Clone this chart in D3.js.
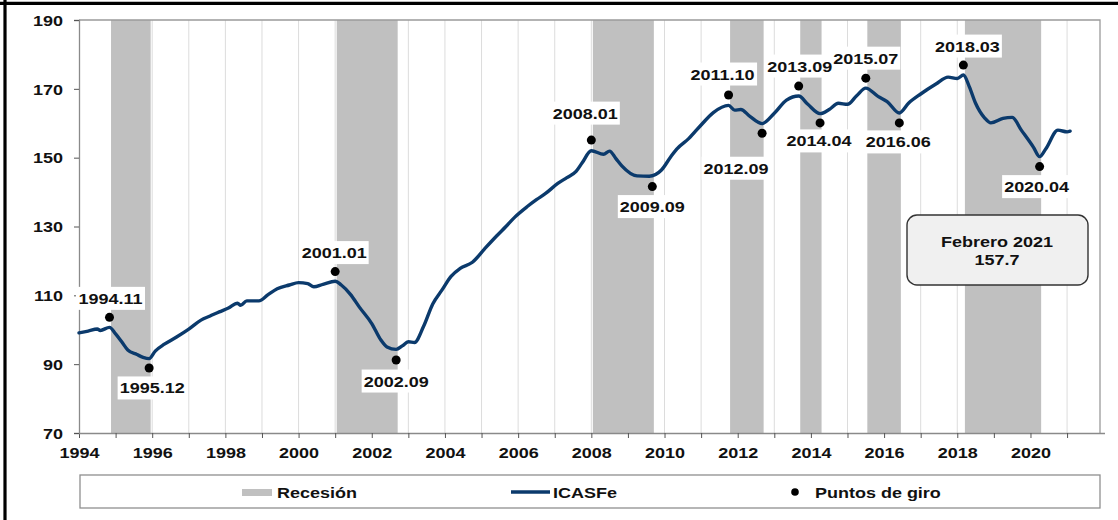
<!DOCTYPE html>
<html>
<head>
<meta charset="utf-8">
<script src="https://cdn.jsdelivr.net/npm/d3@7"></script>
<style>
  html, body { margin: 0; padding: 0; background: #fff; }
  svg { display: block; }
  text { font-family: "Liberation Sans", Arial, sans-serif; font-weight: bold; fill: #111; }
</style>
</head>
<body>
<svg id="chart" width="1118" height="520"></svg>
<script>
// ---------------- DATA ----------------
const icasfeDates = [
  "1994-01","1994-04","1994-07","1994-08","1994-11","1995-01","1995-03","1995-05","1995-08","1995-10","1995-12",
  "1996-02","1996-05","1996-09","1997-01","1997-05","1997-08","1997-11","1998-02","1998-05","1998-06","1998-08","1998-12",
  "1999-03","1999-06","1999-10","2000-01","2000-04","2000-06","2000-09","2001-01","2001-03","2001-06","2001-09",
  "2002-01","2002-04","2002-06","2002-09","2002-11","2003-01","2003-03","2003-06","2003-09","2003-12",
  "2004-03","2004-06","2004-10","2005-02","2005-06","2005-09","2005-12","2006-04","2006-07","2006-10",
  "2007-02","2007-05","2007-08","2007-10","2008-01","2008-05","2008-07","2008-09","2008-11","2009-04","2009-08","2009-12",
  "2010-03","2010-05","2010-09","2011-01","2011-05","2011-10","2011-12","2012-02","2012-05","2012-09",
  "2013-01","2013-05","2013-09","2013-12","2014-04","2014-07","2014-10","2015-01","2015-04","2015-07","2015-11",
  "2016-02","2016-06","2016-09","2017-01","2017-06","2017-10","2018-01","2018-03","2018-05","2018-07","2018-10","2018-12",
  "2019-04","2019-07","2019-10","2020-02","2020-04","2020-06","2020-10","2021-01","2021-02"
];
const icasfeValues = [
  99.1,99.6,100.2,99.8,100.7,98.8,96.5,94.1,92.8,92.0,91.6,
  93.8,95.8,97.9,100.2,102.8,104.0,105.2,106.3,107.7,107.1,108.4,108.4,
  110.2,111.9,113.0,113.7,113.4,112.5,113.2,114.1,113.0,110.3,106.5,
  101.8,97.0,95.0,94.3,95.3,96.5,96.3,101.0,107.5,111.5,
  115.5,117.8,119.6,123.5,127.3,130.0,132.8,135.8,137.8,139.6,
  142.5,144.2,146.0,148.5,152.0,151.0,151.9,149.8,147.6,144.7,144.6,146.4,
  150.2,152.5,155.6,159.5,163.1,165.2,163.8,164.0,162.0,159.9,
  162.9,166.7,167.9,165.5,162.8,164.0,165.8,165.5,168.0,170.2,167.8,
  166.3,163.0,165.8,168.5,171.4,173.4,173.0,174.0,170.5,165.8,161.5,160.1,
  161.4,161.7,158.0,153.0,150.3,152.5,158.0,157.5,157.7
];

// Recession periods (start, end)
const recessionStarts = ["1994-11","2001-01","2008-01","2011-10","2013-09","2015-07","2018-03"];
const recessionEnds   = ["1995-12","2002-09","2009-09","2012-09","2014-04","2016-06","2020-04"];

// Turning points (date label and marker value)
const turningDates  = ["1994-11","1995-12","2001-01","2002-09","2008-01","2009-09","2011-10","2012-09","2013-09","2014-04","2015-07","2016-06","2018-03","2020-04"];
const turningValues = [103.6,88.9,116.9,91.2,155.1,141.6,168.2,157.1,170.8,160.1,173.1,160.1,176.9,147.4];

const yTicks = [70, 90, 110, 130, 150, 170, 190];
const xTickYears = d3.range(1994, 2022);
const legendLabels = ["Recesión", "ICASFe", "Puntos de giro"];
const noteLines = ["Febrero 2021", "157.7"];

// ---------------- LAYOUT ----------------
// label offsets (pixels) relative to each turning point marker
const labelOffsets = [[1,-19],[3,20],[-1,-19],[0,21],[-6,-27],[0,20],[-6,-21],[-26,35],[1,-20],[-1,18],[0,-20],[-1,19],[4,-19],[-3,20]];
const SX = 1.2; // horizontal text stretch of the original picture
const toYear = s => { const [yy, m] = s.split("-").map(Number); return yy + (m - 1) / 12; };

const svg = d3.select("#chart");
const pLeft = 79, pRight = 1100, pTop = 20, pBottom = 433;

const x = d3.scaleLinear().domain([1994, 2021.9]).range([pLeft, pRight]);
const y = d3.scaleLinear().domain([70, 190]).range([pBottom, pTop]);

// outer frame
svg.append("line").attr("x1", 0).attr("x2", 1118).attr("y1", 3.3).attr("y2", 3.3).attr("stroke", "#000").attr("stroke-width", 3.2);
svg.append("line").attr("x1", 5).attr("x2", 5).attr("y1", 0).attr("y2", 520).attr("stroke", "#000").attr("stroke-width", 3.2);

// vertical gridlines
svg.append("g").selectAll("line").data(xTickYears.slice(1)).join("line")
  .attr("x1", d => x(d)).attr("x2", d => x(d)).attr("y1", pTop).attr("y2", pBottom)
  .attr("stroke", "#dcdcdc").attr("stroke-width", 1);

// recession shading
const half = 0.5 / 12;
svg.append("g").selectAll("rect").data(recessionStarts.map((s, i) => [toYear(s), toYear(recessionEnds[i])])).join("rect")
  .attr("x", d => x(d[0] + half)).attr("width", d => x(d[1] + half) - x(d[0] + half))
  .attr("y", pTop).attr("height", pBottom - pTop).attr("fill", "#c0c0c0");

// plot frame (top & right)
svg.append("path").attr("d", `M${pLeft},${pTop}H${pRight}V${pBottom}`).attr("fill", "none").attr("stroke", "#9a9a9a").attr("stroke-width", 1.3);

// axes
const xAxis = d3.axisBottom(x).tickValues(xTickYears).tickSize(5).tickPadding(9)
  .tickFormat(d => d % 2 === 0 ? String(d) : "");
const gx = svg.append("g").attr("transform", `translate(0,${pBottom})`).call(xAxis);
gx.select(".domain").attr("stroke", "#8a8a8a").attr("stroke-width", 1.3).attr("d", `M${pLeft},0.5H${pRight + 5}`);
gx.selectAll(".tick line").attr("stroke", "#555");
gx.selectAll(".tick text").attr("font-size", 15).attr("font-family", "Liberation Sans, Arial, sans-serif")
  .attr("font-weight", "bold").attr("fill", "#111").attr("transform", `scale(${SX},1)`);

const yAxis = d3.axisLeft(y).tickValues(yTicks).tickSize(5).tickPadding(0);
const gy = svg.append("g").attr("transform", `translate(${pLeft},0)`).call(yAxis);
gy.select(".domain").attr("stroke", "#8a8a8a").attr("stroke-width", 1.3);
gy.selectAll(".tick line").attr("stroke", "#555");
gy.selectAll(".tick text").attr("font-size", 15).attr("font-family", "Liberation Sans, Arial, sans-serif")
  .attr("font-weight", "bold").attr("fill", "#111").attr("x", -16 / SX).attr("dy", "0.35em")
  .attr("transform", `scale(${SX},1)`);

// line
const series = icasfeDates.map((d, i) => [toYear(d), icasfeValues[i]]);
const line = d3.line().x(d => x(d[0])).y(d => y(d[1])).curve(d3.curveMonotoneX);
svg.append("path").datum(series).attr("d", line).attr("fill", "none")
  .attr("stroke", "#0b3a6c").attr("stroke-width", 3.4).attr("stroke-linejoin", "round").attr("stroke-linecap", "round");

// turning point labels
const tps = turningDates.map((d, i) => ({ label: d.replace("-", "."), t: toYear(d), v: turningValues[i], off: labelOffsets[i] }));
const lg = svg.append("g");
tps.forEach(p => {
  const cx = x(p.t) + p.off[0], cy = y(p.v) + p.off[1];
  lg.append("rect").attr("x", cx - 34.5).attr("y", cy - 11.5).attr("width", 69).attr("height", 23).attr("fill", "#fff");
});
svg.append("g").selectAll("circle").data(tps).join("circle")
  .attr("cx", d => x(d.t)).attr("cy", d => y(d.v)).attr("r", 4.5).attr("fill", "#000");
const lt = svg.append("g");
tps.forEach(p => {
  const cx = x(p.t) + p.off[0], cy = y(p.v) + p.off[1];
  lt.append("text").attr("transform", `translate(${cx},${cy + 5.5}) scale(${SX},1)`)
    .attr("text-anchor", "middle").attr("font-size", 15).text(p.label);
});

// note box
const note = svg.append("g");
note.append("rect").attr("x", 907).attr("y", 215).attr("width", 181).attr("height", 70).attr("rx", 10)
  .attr("fill", "#f0f0f0").attr("stroke", "#333").attr("stroke-width", 1.4);
noteLines.forEach((t, i) => {
  note.append("text").attr("transform", `translate(997,${246.5 + i * 18.5}) scale(${SX},1)`)
    .attr("text-anchor", "middle").attr("font-size", 15).text(t);
});

// legend
const leg = svg.append("g");
leg.append("rect").attr("x", 80).attr("y", 475).attr("width", 1020).attr("height", 33)
  .attr("fill", "#fff").attr("stroke", "#8f8f8f").attr("stroke-width", 1.3);
leg.append("rect").attr("x", 242).attr("y", 489).attr("width", 30).attr("height", 7).attr("fill", "#c0c0c0");
leg.append("line").attr("x1", 511).attr("x2", 550).attr("y1", 492).attr("y2", 492).attr("stroke", "#0b3a6c").attr("stroke-width", 3.4);
leg.append("circle").attr("cx", 795).attr("cy", 492).attr("r", 3.8).attr("fill", "#000");
const legX = [277, 553, 815];
legendLabels.forEach((t, i) => {
  leg.append("text").attr("transform", `translate(${legX[i]},497.5) scale(${SX},1)`).attr("font-size", 15).text(t);
});
</script>
</body>
</html>
